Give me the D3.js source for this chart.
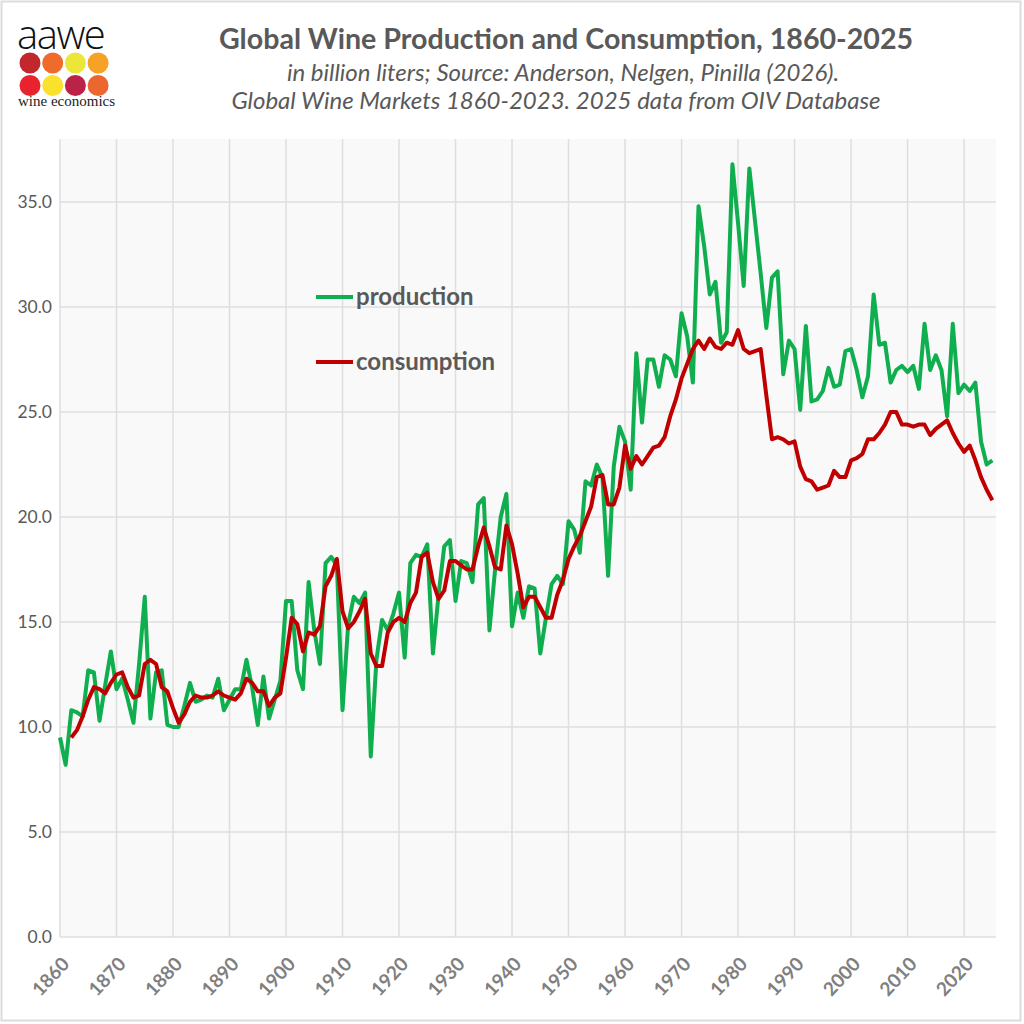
<!DOCTYPE html>
<html>
<head>
<meta charset="utf-8">
<script src="https://cdn.jsdelivr.net/npm/d3@7"></script>
<style>
  body { margin: 0; background: #fff; }
  svg { display: block; }
</style>
</head>
<body>
<svg width="1024" height="1024"></svg>
<script>

// production, billion liters, 1860-2025
const productionStart = 1860;
const production = [
  9.5, 8.2, 10.8, 10.7, 10.5, 12.7, 12.6, 10.3, 12.0, 13.6,
  11.8, 12.3, 11.3, 10.2, 13.0, 16.2, 10.4, 12.6, 12.7, 10.1,
  10.0, 10.0, 11.0, 12.1, 11.2, 11.3, 11.5, 11.4, 12.3, 10.8,
  11.3, 11.8, 11.8, 13.2, 11.9, 10.1, 12.4, 10.4, 11.3, 12.2,
  16.0, 16.0, 12.7, 11.8, 16.9, 14.6, 13.0, 17.8, 18.1, 17.7,
  10.8, 14.9, 16.2, 15.9, 16.4, 8.6, 13.2, 15.1, 14.6, 15.4,
  16.4, 13.3, 17.8, 18.2, 18.1, 18.7, 13.5, 16.3, 18.6, 18.9,
  16.0, 17.9, 17.8, 16.9, 20.6, 20.9, 14.6, 17.5, 20.0, 21.1,
  14.8, 16.4, 15.2, 16.7, 16.6, 13.5, 15.2, 16.8, 17.2, 16.8,
  19.8, 19.4, 18.3, 21.7, 21.5, 22.5, 21.9, 17.2, 22.4, 24.3,
  23.6, 21.3, 27.8, 24.5, 27.5, 27.5, 26.2, 27.7, 27.5, 26.7,
  29.7, 28.6, 26.4, 34.8, 32.9, 30.6, 31.2, 28.3, 28.8, 36.8,
  34.0, 31.0, 36.6, 34.1, 31.6, 29.0, 31.4, 31.7, 26.8, 28.4,
  28.0, 25.1, 29.1, 25.5, 25.6, 26.0, 27.1, 26.2, 26.3, 27.9,
  28.0, 27.0, 25.7, 26.7, 30.6, 28.2, 28.3, 26.4, 27.0, 27.2,
  26.9, 27.2, 26.1, 29.2, 27.0, 27.7, 27.0, 24.8, 29.2, 25.9,
  26.3, 26.0, 26.4, 23.6, 22.5, 22.7
];

// consumption, billion liters, 1862-2025
const consumptionStart = 1862;
const consumption = [
            9.5, 9.85, 10.5, 11.3, 11.9, 11.8, 11.6, 12.1,
  12.5, 12.6, 11.9, 11.4, 11.5, 13.0, 13.2, 13.0, 11.9, 11.7,
  10.9, 10.2, 10.6, 11.2, 11.5, 11.4, 11.4, 11.5, 11.7, 11.5,
  11.4, 11.3, 11.6, 12.3, 12.1, 11.7, 11.7, 11.0, 11.4, 11.6,
  13.3, 15.2, 14.9, 13.6, 14.5, 14.4, 14.8, 16.7, 17.2, 18.0,
  15.5, 14.7, 15.0, 15.5, 16.1, 13.5, 12.9, 12.9, 14.5, 15.0,
  15.2, 15.0, 15.9, 16.4, 18.1, 18.3, 16.9, 16.1, 16.5, 17.9,
  17.9, 17.7, 17.5, 17.5, 18.6, 19.5, 18.6, 17.6, 17.5, 19.6,
  18.7, 17.3, 15.7, 16.2, 16.2, 15.7, 15.2, 15.2, 16.3, 17.0,
  18.0, 18.6, 19.1, 19.8, 20.5, 21.9, 22.0, 20.6, 20.6, 21.4,
  23.4, 22.3, 22.9, 22.5, 22.9, 23.3, 23.4, 23.8, 24.8, 25.6,
  26.6, 27.3, 28.0, 28.4, 28.0, 28.5, 28.1, 28.0, 28.3, 28.2,
  28.9, 28.0, 27.8, 27.9, 28.0, 25.8, 23.7, 23.8, 23.7, 23.5,
  23.6, 22.4, 21.8, 21.7, 21.3, 21.4, 21.5, 22.2, 21.9, 21.9,
  22.7, 22.8, 23.0, 23.7, 23.7, 24.0, 24.4, 25.0, 25.0, 24.4,
  24.4, 24.3, 24.4, 24.4, 23.9, 24.2, 24.4, 24.6, 24.0, 23.5,
  23.1, 23.4, 22.7, 21.9, 21.3, 20.8
];

const yTicks = [0, 5, 10, 15, 20, 25, 30, 35];
const xTicks = d3.range(1860, 2021, 10);

const seriesNames = ['production', 'consumption'];
const seriesColors = ['#0fae4f', '#c00000'];

const logoColors = ['#c1272d', '#ef6b2b', '#ece63a', '#f5a226',
                    '#e8232e', '#f9e12c', '#ba2248', '#ec6630'];

const FONT = 'Lato, "Open Sans", sans-serif';

const svg = d3.select('svg');
const W = 1024, H = 1024;

svg.append('rect').attr('width', W).attr('height', H).attr('fill', '#fff');
svg.append('rect')
    .attr('x', 1.5).attr('y', 1.5)
    .attr('width', W - 5).attr('height', H - 5)
    .attr('fill', 'none').attr('stroke', '#dcdcdc').attr('stroke-width', 2);

// plot area
const plotLeft = 60, plotRight = 996, plotTop = 139, plotBottom = 937;

const x = d3.scaleLinear().domain([1860, 2025.65]).range([plotLeft, plotRight]);
const y = d3.scaleLinear().domain([0, 38]).range([plotBottom, plotTop]);

svg.append('rect')
    .attr('x', plotLeft).attr('y', plotTop)
    .attr('width', plotRight - plotLeft).attr('height', plotBottom - plotTop)
    .attr('fill', '#f9f9f9');

// gridlines
svg.append('g')
  .selectAll('line')
  .data(yTicks)
  .enter().append('line')
    .attr('x1', plotLeft).attr('x2', plotRight)
    .attr('y1', d => y(d)).attr('y2', d => y(d))
    .attr('stroke', '#dedede').attr('stroke-width', 1.5);

svg.append('g')
  .selectAll('line')
  .data(xTicks)
  .enter().append('line')
    .attr('x1', d => x(d)).attr('x2', d => x(d))
    .attr('y1', plotTop).attr('y2', plotBottom)
    .attr('stroke', '#dedede').attr('stroke-width', 1.5);

// axes (text only)
const yAxis = svg.append('g')
    .attr('transform', `translate(${plotLeft},0)`)
    .call(d3.axisLeft(y).tickValues(yTicks).tickFormat(d3.format('.1f')).tickSize(0).tickPadding(8));
yAxis.select('.domain').remove();
yAxis.selectAll('text')
    .attr('font-family', FONT)
    .attr('font-size', 17.5)
    .attr('fill', '#595959');

const xAxis = svg.append('g')
    .attr('transform', `translate(0,${plotBottom})`)
    .call(d3.axisBottom(x).tickValues(xTicks).tickFormat(d3.format('d')).tickSize(0));
xAxis.select('.domain').remove();
xAxis.selectAll('text')
    .attr('font-family', FONT)
    .attr('font-size', 19)
    .attr('font-weight', 'bold')
    .attr('fill', '#7f7f7f')
    .attr('text-anchor', 'end')
    .attr('dy', null)
    .attr('y', 0)
    .attr('transform', 'translate(10,28) rotate(-47)');

// lines
const line = d3.line()
    .x(d => x(d.year))
    .y(d => y(d.value));

const prodData = production.map((v, i) => ({year: productionStart + i, value: v}));
const consData = consumption.map((v, i) => ({year: consumptionStart + i, value: v}));

[prodData, consData].forEach((data, i) => {
  svg.append('path')
      .datum(data)
      .attr('d', line)
      .attr('fill', 'none')
      .attr('stroke', seriesColors[i])
      .attr('stroke-width', 4)
      .attr('stroke-linejoin', 'round');
});

// legend
const legend = svg.append('g')
  .selectAll('g')
  .data(seriesNames)
  .enter().append('g')
    .attr('transform', (d, i) => `translate(316,${297 + i * 65})`);

legend.append('line')
    .attr('x1', 0).attr('x2', 37)
    .attr('stroke', (d, i) => seriesColors[i])
    .attr('stroke-width', 4);

legend.append('text')
    .attr('x', 40).attr('y', 8)
    .attr('font-family', FONT)
    .attr('font-size', 24)
    .attr('font-weight', 'bold')
    .attr('fill', '#595959')
    .text(d => d);

// titles
svg.append('text')
    .attr('x', 566).attr('y', 49)
    .attr('text-anchor', 'middle')
    .attr('font-family', FONT)
    .attr('font-size', 28.6)
    .attr('font-weight', 'bold')
    .attr('fill', '#595959')
    .text('Global Wine Production and Consumption, 1860-2025');

svg.append('text')
    .attr('x', 563).attr('y', 81)
    .attr('text-anchor', 'middle')
    .attr('font-family', FONT)
    .attr('font-size', 24)
    .attr('font-style', 'italic')
    .attr('fill', '#595959')
    .text('in billion liters; Source: Anderson, Nelgen, Pinilla (2026).');

svg.append('text')
    .attr('x', 556).attr('y', 109)
    .attr('text-anchor', 'middle')
    .attr('font-family', FONT)
    .attr('font-size', 24)
    .attr('font-style', 'italic')
    .attr('fill', '#595959')
    .text('Global Wine Markets 1860-2023. 2025 data from OIV Database');

// logo
const logo = svg.append('g');
logo.append('text')
    .attr('x', 17).attr('y', 49)
    .attr('font-family', '"Open Sans", sans-serif')
    .attr('font-size', 40)
    .attr('font-weight', 300)
    .attr('letter-spacing', -1.5)
    .attr('fill', '#111')
    .text('aawe');

logo.selectAll('circle')
  .data(logoColors)
  .enter().append('circle')
    .attr('cx', (d, i) => 30 + (i % 4) * 22.7)
    .attr('cy', (d, i) => 63 + Math.floor(i / 4) * 22.5)
    .attr('r', 10.5)
    .attr('fill', d => d);

logo.append('text')
    .attr('x', 18).attr('y', 106)
    .attr('font-family', '"Liberation Serif", "DejaVu Serif", serif')
    .attr('font-size', 15)
    .attr('fill', '#222')
    .text('wine economics');

</script>
</body>
</html>
